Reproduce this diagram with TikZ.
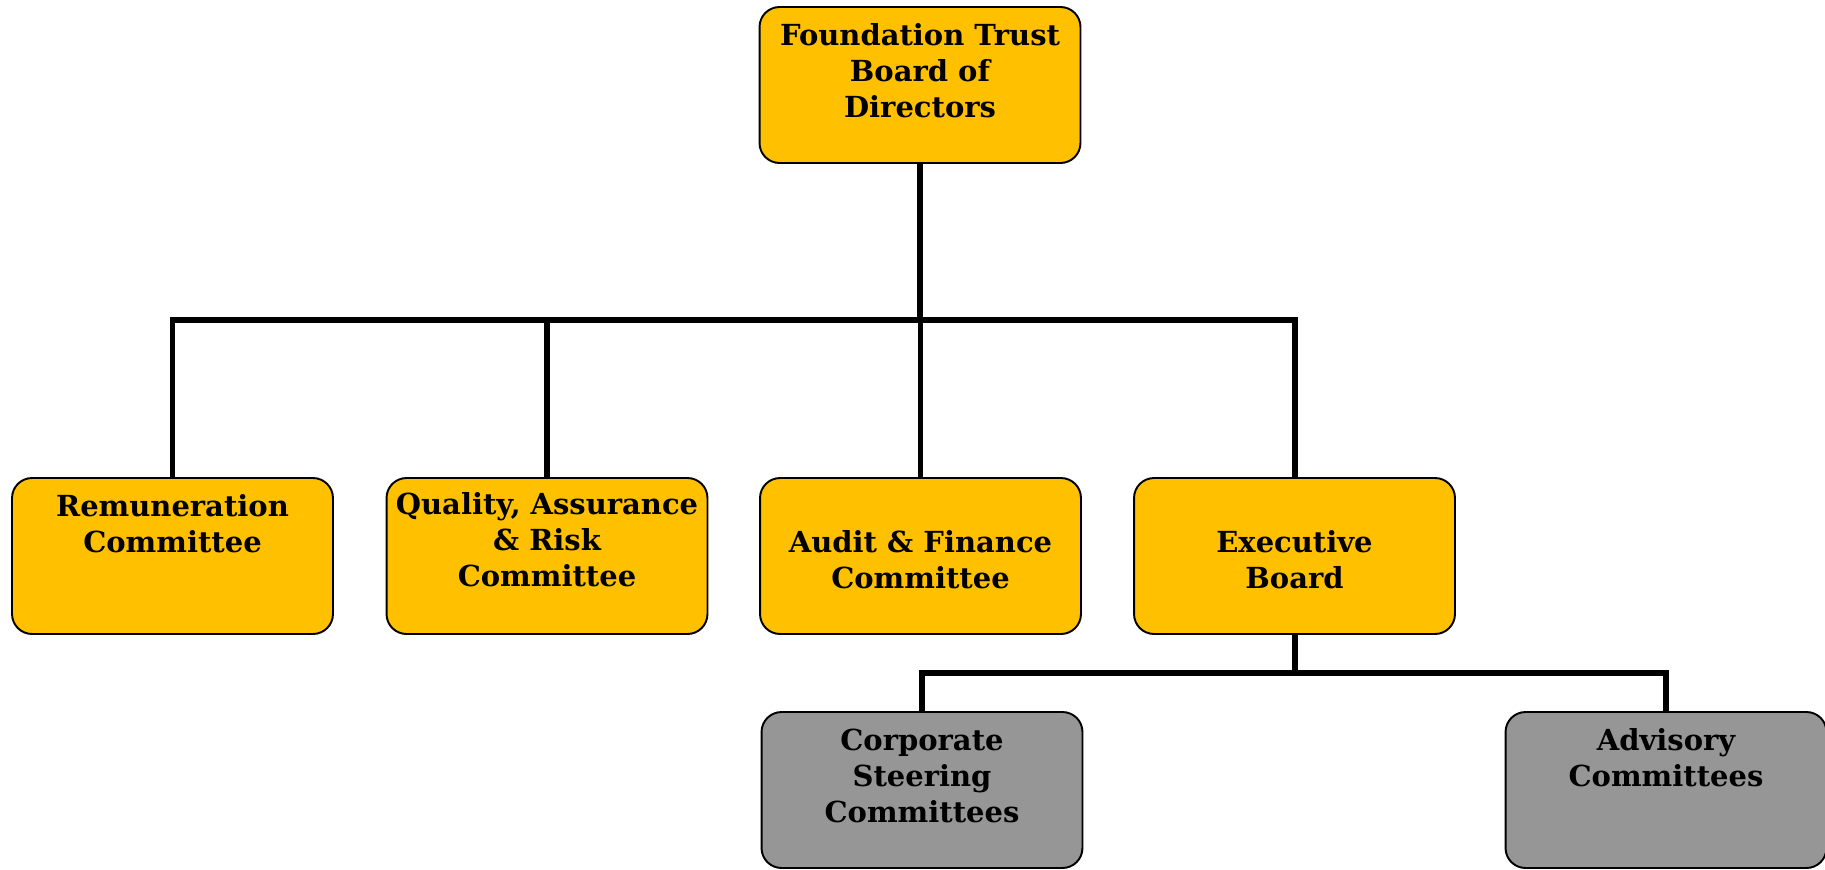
\documentclass[tikz,border=0pt]{standalone}
\usepackage{fontspec}
\setmainfont{DejaVu Serif}
\usetikzlibrary{positioning}

\definecolor{boardgold}{HTML}{FFC000}
\definecolor{subgrey}{HTML}{969696}

\tikzset{
	unit/.style={draw=black, line width=1.1pt, rounded corners=0.4cm,
		minimum width=6.42cm, minimum height=3.12cm, inner sep=0pt},
	board/.style={unit, fill=boardgold},
	sub/.style={unit, fill=subgrey},
	caption/.style={align=center, inner sep=0pt,
		font=\bfseries\fontsize{16.5}{20.5}\selectfont},
	link/.style={line width=3.4pt}
}

\begin{document}
\begin{tikzpicture}[x=0.02cm, y=-0.02cm]
	\useasboundingbox (0,0) rectangle (1825,869);
	
	% Boxes
	\node[board] (fdt) at (920,85) {};
	\node[board] (rem) at (172.5,556) {};
	\node[board] (qar) at (547,556) {};
	\node[board] (aud) at (920.5,556) {};
	\node[board] (exe) at (1294.5,556) {};
	\node[sub] (csc) at (922,790) {};
	\node[sub] (adv) at (1666,790) {};
	
	% Box texts
	\node[caption] (fdt-t) at (920,71) {Foundation Trust\\Board of\\Directors};
	\node[caption] (rem-t) at (172.5,524) {Remuneration\\Committee};
	\node[caption] (qar-t) at (547,540) {Quality, Assurance\\\& Risk\\Committee};
	\node[caption] (aud-t) at (920.5,560) {Audit \& Finance\\Committee};
	\node[caption] (exe-t) at (1294.5,560) {Executive\\Board};
	\node[caption] (csc-t) at (922,776) {Corporate\\Steering\\Committees};
	\node[caption] (adv-t) at (1666,758) {Advisory\\Committees};
	
	% Connectors
	\coordinate (bus) at (920,320);
	\coordinate (exe-bus) at (1294.5,673);
	\draw[link] (fdt.south) -- (bus);
	\draw[link] (rem.north) |- (exe.north |- bus) -- (exe.north);
	\draw[link] (qar.north) -- (qar.north |- bus);
	\draw[link] (aud.north) -- (aud.north |- bus);
	\draw[link] (exe.south) -- (exe-bus);
	\draw[link] (csc.north) |- (adv.north |- exe-bus) -- (adv.north);
\end{tikzpicture}
\end{document}
